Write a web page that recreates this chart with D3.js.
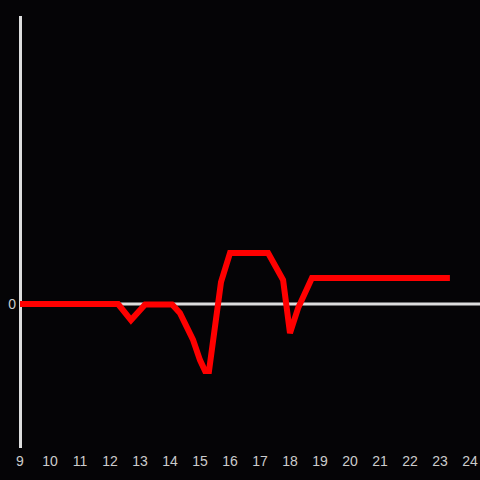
<!DOCTYPE html>
<html><head><meta charset="utf-8">
<script src="https://cdn.jsdelivr.net/npm/d3@7"></script>
<style>html,body{margin:0;padding:0;background:#050406;}svg{display:block;}</style>
</head><body>
<script>
const xValues = [9, 12.27, 12.7, 13.17, 14.07, 14.33, 14.77, 15.0, 15.17, 15.3, 15.7, 16.0, 17.27, 17.77, 18.0, 18.27, 18.73, 23.33];
const yValues = [0, 0, -0.63, -0.02, -0.02, -0.35, -1.41, -2.2, -2.63, -2.63, 0.86, 2, 2, 0.94, -1.14, -0.16, 1.02, 1.02];
const xTicks = [9,10,11,12,13,14,15,16,17,18,19,20,21,22,23,24];
const yTicks = [0];

const W = 480, H = 480;
const svg = d3.select("body").append("svg").attr("width", W).attr("height", H)
  .style("background", "#050406");
const x = d3.scaleLinear().domain([9, 24]).range([20, 470]);
const y = d3.scaleLinear().domain([-144/25.5, 288/25.5]).range([448, 16]);

// y axis line
svg.append("line").attr("x1", 20.5).attr("x2", 20.5).attr("y1", y.range()[1]).attr("y2", y.range()[0])
  .attr("stroke", "#dddddd").attr("stroke-width", 3);
// zero line
svg.append("line").attr("x1", 20).attr("x2", 480).attr("y1", y(0)).attr("y2", y(0))
  .attr("stroke", "#dddddd").attr("stroke-width", 3);

svg.selectAll("text.xt").data(xTicks).enter().append("text").attr("class","xt")
  .attr("x", d => x(d)).attr("y", 466).attr("text-anchor", "middle")
  .attr("font-family", "Liberation Sans, Arial, sans-serif").attr("font-size", 14)
  .attr("fill", "#cccccc").text(d => d);
svg.selectAll("text.yt").data(yTicks).enter().append("text").attr("class","yt")
  .attr("x", 16).attr("y", y(0) + 5).attr("text-anchor", "end")
  .attr("font-family", "Liberation Sans, Arial, sans-serif").attr("font-size", 14)
  .attr("fill", "#cccccc").text(d => d);

const data = xValues.map((v, i) => [v, yValues[i]]);
svg.append("path").datum(data)
  .attr("d", d3.line().x(d => x(d[0])).y(d => y(d[1])))
  .attr("fill", "none").attr("stroke", "#ff0000").attr("stroke-width", 6)
  .attr("stroke-linejoin", "miter").attr("stroke-linecap", "butt");
</script>
</body></html>
